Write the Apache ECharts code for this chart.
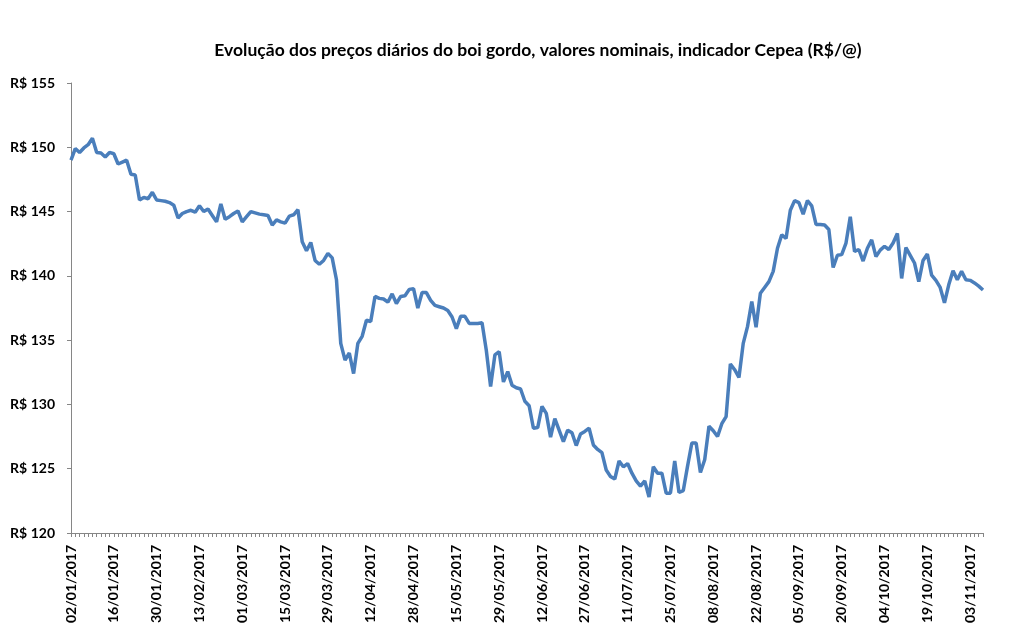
<!DOCTYPE html>
<html>
<head>
<meta charset="utf-8">
<script src="https://cdn.jsdelivr.net/npm/echarts@6/dist/echarts.min.js"></script>
<style>
  body { margin: 0; background: #fff; }
  #chart { width: 1012px; height: 631px; }
</style>
</head>
<body>
<div id="chart"></div>
<script>
// dias úteis com cotação Cepea, 2017
var dates = [
  '02/01/2017','03/01/2017','04/01/2017','05/01/2017','06/01/2017','09/01/2017','10/01/2017','11/01/2017','12/01/2017','13/01/2017',
  '16/01/2017','17/01/2017','18/01/2017','19/01/2017','20/01/2017','23/01/2017','24/01/2017','25/01/2017','26/01/2017','27/01/2017',
  '30/01/2017','31/01/2017','01/02/2017','02/02/2017','03/02/2017','06/02/2017','07/02/2017','08/02/2017','09/02/2017','10/02/2017',
  '13/02/2017','14/02/2017','15/02/2017','16/02/2017','17/02/2017','20/02/2017','21/02/2017','22/02/2017','23/02/2017','24/02/2017',
  '01/03/2017','02/03/2017','03/03/2017','06/03/2017','07/03/2017','08/03/2017','09/03/2017','10/03/2017','13/03/2017','14/03/2017',
  '15/03/2017','16/03/2017','17/03/2017','20/03/2017','21/03/2017','22/03/2017','23/03/2017','24/03/2017','27/03/2017','28/03/2017',
  '29/03/2017','30/03/2017','31/03/2017','03/04/2017','04/04/2017','05/04/2017','06/04/2017','07/04/2017','10/04/2017','11/04/2017',
  '12/04/2017','13/04/2017','17/04/2017','18/04/2017','19/04/2017','20/04/2017','24/04/2017','25/04/2017','26/04/2017','27/04/2017',
  '28/04/2017','02/05/2017','03/05/2017','04/05/2017','05/05/2017','08/05/2017','09/05/2017','10/05/2017','11/05/2017','12/05/2017',
  '15/05/2017','16/05/2017','17/05/2017','18/05/2017','19/05/2017','22/05/2017','23/05/2017','24/05/2017','25/05/2017','26/05/2017',
  '29/05/2017','30/05/2017','31/05/2017','01/06/2017','02/06/2017','05/06/2017','06/06/2017','07/06/2017','08/06/2017','09/06/2017',
  '12/06/2017','13/06/2017','14/06/2017','16/06/2017','19/06/2017','20/06/2017','21/06/2017','22/06/2017','23/06/2017','26/06/2017',
  '27/06/2017','28/06/2017','29/06/2017','30/06/2017','03/07/2017','04/07/2017','05/07/2017','06/07/2017','07/07/2017','10/07/2017',
  '11/07/2017','12/07/2017','13/07/2017','14/07/2017','17/07/2017','18/07/2017','19/07/2017','20/07/2017','21/07/2017','24/07/2017',
  '25/07/2017','26/07/2017','27/07/2017','28/07/2017','31/07/2017','01/08/2017','02/08/2017','03/08/2017','04/08/2017','07/08/2017',
  '08/08/2017','09/08/2017','10/08/2017','11/08/2017','14/08/2017','15/08/2017','16/08/2017','17/08/2017','18/08/2017','21/08/2017',
  '22/08/2017','23/08/2017','24/08/2017','25/08/2017','28/08/2017','29/08/2017','30/08/2017','31/08/2017','01/09/2017','04/09/2017',
  '05/09/2017','06/09/2017','08/09/2017','11/09/2017','12/09/2017','13/09/2017','14/09/2017','15/09/2017','18/09/2017','19/09/2017',
  '20/09/2017','21/09/2017','22/09/2017','25/09/2017','26/09/2017','27/09/2017','28/09/2017','29/09/2017','02/10/2017','03/10/2017',
  '04/10/2017','05/10/2017','06/10/2017','09/10/2017','10/10/2017','11/10/2017','13/10/2017','16/10/2017','17/10/2017','18/10/2017',
  '19/10/2017','20/10/2017','23/10/2017','24/10/2017','25/10/2017','26/10/2017','27/10/2017','30/10/2017','31/10/2017','01/11/2017',
  '03/11/2017','06/11/2017','07/11/2017','08/11/2017'
];

// R$/@
var prices = [
  149.0, 149.9, 149.6, 149.95, 150.2, 150.7, 149.6, 149.55, 149.25, 149.6,
  149.5, 148.7, 148.85, 149.0, 147.9, 147.85, 145.9, 146.1, 146.0, 146.5,
  145.9, 145.85, 145.8, 145.7, 145.5, 144.5, 144.85, 145.0, 145.1, 144.95,
  145.45, 145.0, 145.2, 144.7, 144.2, 145.6, 144.4, 144.6, 144.85, 145.05,
  144.2, 144.6, 145.0, 144.9, 144.8, 144.75, 144.7, 143.95, 144.35, 144.2,
  144.1, 144.65, 144.75, 145.15, 142.65, 141.95, 142.6, 141.2, 140.9, 141.2,
  141.75, 141.4, 139.7, 134.75, 133.45, 134.0, 132.4, 134.75, 135.3, 136.55,
  136.45, 138.4, 138.25, 138.2, 137.95, 138.6, 137.85, 138.4, 138.45, 138.95,
  139.0, 137.5, 138.7, 138.7, 138.1, 137.7, 137.6, 137.5, 137.3, 136.8,
  135.9, 136.85, 136.85, 136.3, 136.3, 136.3, 136.35, 134.2, 131.4, 133.85,
  134.1, 131.75, 132.55, 131.5, 131.3, 131.2, 130.25, 129.9, 128.15, 128.2,
  129.85, 129.3, 127.45, 128.9, 128.0, 127.1, 128.0, 127.8, 126.8, 127.7,
  127.9, 128.15, 126.85, 126.5, 126.25, 124.9, 124.4, 124.2, 125.6, 125.15,
  125.4, 124.65, 124.05, 123.65, 124.05, 122.8, 125.15, 124.65, 124.65, 123.1,
  123.1, 125.6, 123.15, 123.3, 125.2, 127.0, 127.0, 124.7, 125.7, 128.3,
  127.95, 127.5, 128.5, 129.05, 133.15, 132.7, 132.1, 134.75, 136.05, 138.0,
  136.0, 138.65, 139.1, 139.55, 140.35, 142.15, 143.2, 142.9, 145.1, 145.85,
  145.7, 144.8, 145.85, 145.45, 144.0, 144.0, 143.95, 143.6, 140.65, 141.6,
  141.65, 142.55, 144.6, 141.9, 142.05, 141.15, 142.15, 142.8, 141.5, 142.0,
  142.3, 142.05, 142.55, 143.3, 139.8, 142.2, 141.6, 141.0, 139.55, 141.2,
  141.7, 140.05, 139.65, 139.1, 137.9, 139.3, 140.4, 139.7, 140.35, 139.7,
  139.65, 139.45, 139.2, 138.9
];

var yMin = 120, yMax = 155, yStep = 5;

var chart = echarts.init(document.getElementById('chart'));

chart.setOption({
  animation: false,
  textStyle: { fontFamily: 'Lato' },
  title: {
    text: 'Evolução dos preços diários do boi gordo, valores nominais, indicador Cepea (R$/@)',
    left: 533,
    top: 36,
    textAlign: 'center',
    textStyle: { fontFamily: 'Lato', fontSize: 17.5, fontWeight: 'bold', color: '#000' }
  },
  grid: {
    left: 71,
    right: 29,
    top: 83,
    bottom: 98
  },
  xAxis: {
    type: 'category',
    data: dates,
    boundaryGap: false,
    axisLine: { lineStyle: { color: '#868686', width: 1 } },
    axisTick: { interval: 0, length: 4, lineStyle: { color: '#868686' } },
    axisLabel: {
      interval: 9,
      rotate: 90,
      margin: 12,
      fontFamily: 'Lato',
      fontSize: 14,
      fontWeight: 'bold',
      color: '#000'
    }
  },
  yAxis: {
    type: 'value',
    min: yMin,
    max: yMax,
    interval: yStep,
    splitLine: { show: false },
    axisLine: { show: true, lineStyle: { color: '#868686', width: 1 } },
    axisTick: { show: true, length: 4, lineStyle: { color: '#868686' } },
    axisLabel: {
      margin: 16,
      fontFamily: 'Lato',
      fontSize: 14,
      fontWeight: 'bold',
      color: '#000',
      formatter: function (v) { return 'R$ ' + v; }
    }
  },
  series: [{
    type: 'line',
    data: prices,
    showSymbol: false,
    lineStyle: { color: '#4a7ebb', width: 3.5 },
    itemStyle: { color: '#4a7ebb' }
  }]
});
</script>
</body>
</html>
